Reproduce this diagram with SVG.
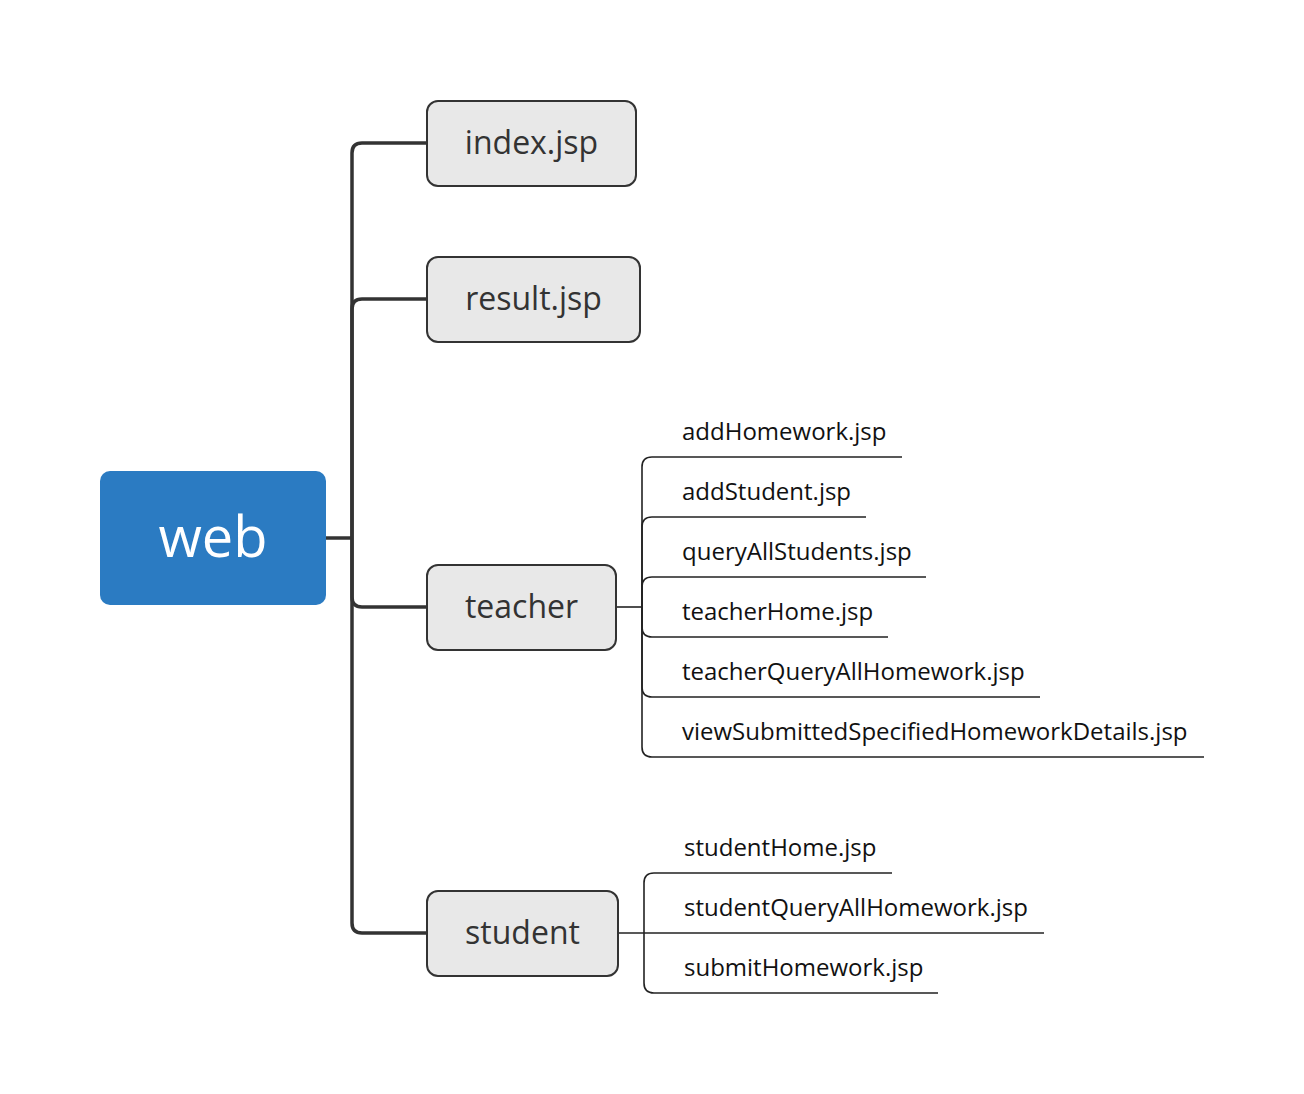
<svg xmlns="http://www.w3.org/2000/svg" width="1304" height="1094" viewBox="0 0 1304 1094">
<style>
.box{fill:#e8e8e8;stroke:#333;stroke-width:2}
.lbl{font-family:"Open Sans","Liberation Sans",sans-serif;font-size:32px;fill:#333;text-anchor:middle}
.leaf{font-family:"Open Sans","Liberation Sans",sans-serif;font-size:24px;fill:#111}
.main{fill:none;stroke:#333;stroke-width:3.5}
.sub{fill:none;stroke:#222;stroke-width:1.6}
</style>
<rect width="1304" height="1094" fill="#fff"/>
<g id="connectors">
<path class="main" d="M326,538 H352"/>
<path class="main" d="M352,538 V153 Q352,143 362,143 H427"/>
<path class="main" d="M352,538 V309 Q352,299 362,299 H427"/>
<path class="main" d="M352,538 V597 Q352,607 362,607 H427"/>
<path class="main" d="M352,538 V923 Q352,933 362,933 H427"/>
<path class="sub" d="M616,607 H642"/>
<path class="sub" d="M642,607 V467 Q642,457 652,457 H902"/>
<path class="sub" d="M642,607 V527 Q642,517 652,517 H866"/>
<path class="sub" d="M642,607 V587 Q642,577 652,577 H926"/>
<path class="sub" d="M642,607 V627 Q642,637 652,637 H888"/>
<path class="sub" d="M642,607 V687 Q642,697 652,697 H1040"/>
<path class="sub" d="M642,607 V747 Q642,757 652,757 H1204"/>
<path class="sub" d="M618,933 H1044"/>
<path class="sub" d="M644,933 V883 Q644,873 654,873 H892"/>
<path class="sub" d="M644,933 V983 Q644,993 654,993 H938"/>
</g>
<g id="web">
<rect x="100" y="471" width="226" height="134" rx="10" fill="#2b7bc2"/>
<text x="213" y="557" font-family="'Open Sans','Liberation Sans',sans-serif" font-size="56" fill="#fff" text-anchor="middle">web</text>
</g>
<g id="index">
<rect class="box" x="427" y="101" width="209" height="85" rx="11"/>
<text class="lbl" x="531.5" y="154">index.jsp</text>
</g>
<g id="result">
<rect class="box" x="427" y="257" width="213" height="85" rx="11"/>
<text class="lbl" x="533.5" y="310">result.jsp</text>
</g>
<g id="teacher">
<rect class="box" x="427" y="565" width="189" height="85" rx="11"/>
<text class="lbl" x="521.5" y="618">teacher</text>
</g>
<g id="student">
<rect class="box" x="427" y="891" width="191" height="85" rx="11"/>
<text class="lbl" x="522.5" y="944">student</text>
</g>
<g id="addHomework"><text class="leaf" x="682" y="440">addHomework.jsp</text></g>
<g id="addStudent"><text class="leaf" x="682" y="500">addStudent.jsp</text></g>
<g id="queryAllStudents"><text class="leaf" x="682" y="560">queryAllStudents.jsp</text></g>
<g id="teacherHome"><text class="leaf" x="682" y="620">teacherHome.jsp</text></g>
<g id="teacherQueryAllHomework"><text class="leaf" x="682" y="680">teacherQueryAllHomework.jsp</text></g>
<g id="viewSubmitted"><text class="leaf" x="682" y="740">viewSubmittedSpecifiedHomeworkDetails.jsp</text></g>
<g id="studentHome"><text class="leaf" x="684" y="856">studentHome.jsp</text></g>
<g id="studentQueryAllHomework"><text class="leaf" x="684" y="916">studentQueryAllHomework.jsp</text></g>
<g id="submitHomework"><text class="leaf" x="684" y="976">submitHomework.jsp</text></g>
</svg>
